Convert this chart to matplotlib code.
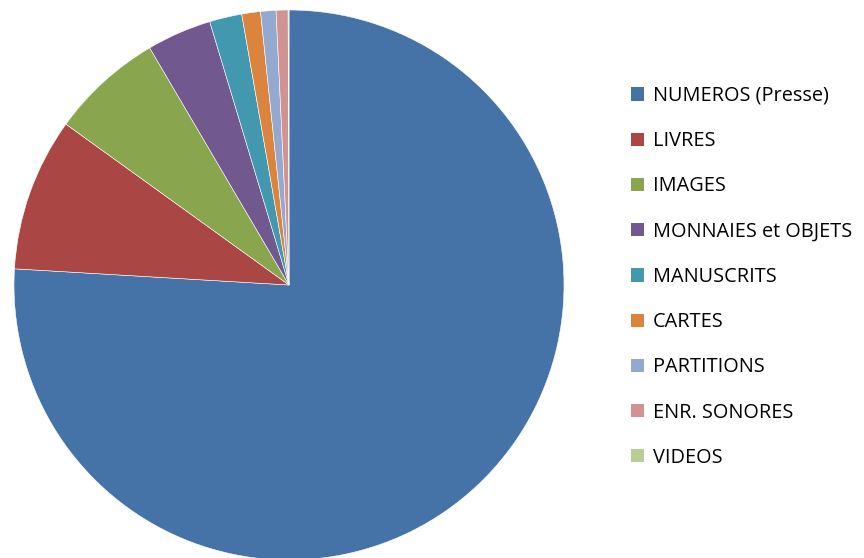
import matplotlib
matplotlib.use("Agg")
import matplotlib.pyplot as plt
from matplotlib.patches import Patch

categories = ["NUMEROS (Presse)", "LIVRES", "IMAGES", "MONNAIES et OBJETS",
              "MANUSCRITS", "CARTES", "PARTITIONS", "ENR. SONORES", "VIDEOS"]
values = [75.9, 9.0, 6.6, 3.8, 1.9, 1.1, 0.9, 0.7, 0.05]
colors = ["#4572A7", "#AA4643", "#89A54E", "#71588F", "#4198AF",
          "#DB843D", "#93A9CF", "#D19392", "#B9CD96"]

W, H = 864, 558
fig = plt.figure(figsize=(W / 100, H / 100), dpi=100)
cx, cy, r = 289, 558 - 285, 275
ax = fig.add_axes([(cx - r) / W, (cy - r) / H, 2 * r / W, 2 * r / H])
wedges, _ = ax.pie(values, colors=colors, startangle=90, counterclock=False,
                   radius=1.0, wedgeprops=dict(edgecolor="white", linewidth=0.4))
for w in wedges:
    w.set_clip_on(False)
ax.set_xlim(-1, 1)
ax.set_ylim(-1, 1)
ax.set_aspect("equal")
ax.axis("off")

handles = [Patch(facecolor=c, edgecolor="none") for c in colors]
leg = fig.legend(handles, categories, loc="upper left",
                 bbox_to_anchor=(631 / W, 1 - 86 / H), frameon=False,
                 prop=dict(family="Open Sans", size=14.3),
                 handlelength=0.65, handleheight=0.65, handletextpad=0.45,
                 labelspacing=1.27, borderpad=0, borderaxespad=0)

fig.savefig("out.png", dpi=100)
